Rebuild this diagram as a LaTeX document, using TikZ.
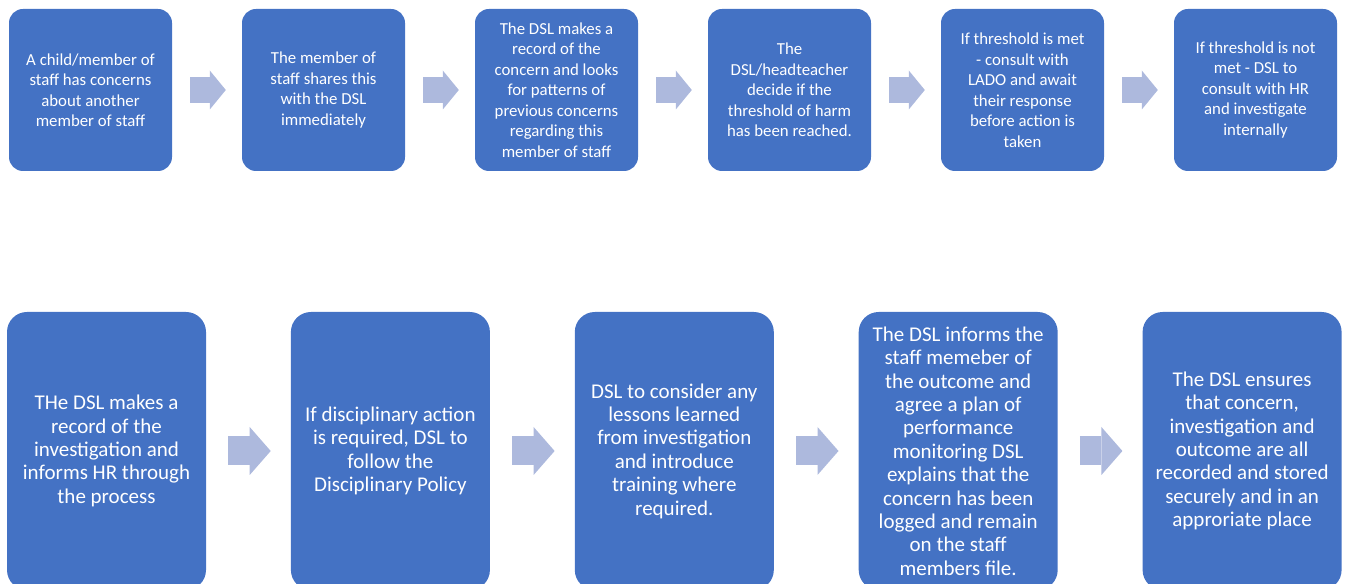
\documentclass[tikz,border=0pt]{standalone}
\usepackage{fontspec}
\setmainfont{Carlito}
\usepackage{xcolor}
\usetikzlibrary{positioning,arrows.meta}

\definecolor{boxblue}{RGB}{68,114,196}
\definecolor{arrowblue}{RGB}{173,185,221}

\tikzset{
    stepbox/.style={rectangle, fill=boxblue, text=white, align=center, inner sep=0pt},
    topbox/.style={stepbox, minimum width=163pt, minimum height=162pt, rounded corners=14pt, font=\fontsize{16.8}{20.5}\selectfont},
    lowbox/.style={stepbox, minimum width=199pt, minimum height=278pt, rounded corners=20pt, font=\fontsize{21}{23.4}\selectfont},
    toparrow/.style={draw=arrowblue, line width=26pt, shorten <=18pt, shorten >=16pt, -{Triangle[width=39pt, length=16pt, line width=0pt]}},
    lowarrow/.style={draw=arrowblue, line width=29pt, shorten <=22pt, shorten >=20pt, -{Triangle[width=48pt, length=21pt, line width=0pt]}}
}

\begin{document}
\begin{tikzpicture}[x=1pt, y=1pt]
    \useasboundingbox (0,0) rectangle (1345,584);

    % Top row
    \node[topbox] (t1) at (90.5,494) {
        A child/member of\\
        staff has concerns\\
        about another\\
        member of staff
    };

    \node[topbox, right=69.6pt of t1] (t2) {
        The member of\\
        staff shares this\\
        with the DSL\\
        immediately
    };

    \node[topbox, right=69.6pt of t2] (t3) {
        The DSL makes a\\
        record of the\\
        concern and looks\\
        for patterns of\\
        previous concerns\\
        regarding this\\
        member of staff
    };

    \node[topbox, right=69.6pt of t3] (t4) {
        The\\
        DSL/headteacher\\
        decide if the\\
        threshold of harm\\
        has been reached.
    };

    \node[topbox, right=69.6pt of t4] (t5) {
        If threshold is met\\
        - consult with\\
        LADO and await\\
        their response\\
        before action is\\
        taken
    };

    \node[topbox, right=69.6pt of t5] (t6) {
        If threshold is not\\
        met - DSL to\\
        consult with HR\\
        and investigate\\
        internally
    };

    % Bottom row
    \node[lowbox] (b1) at (106.5,133) {
        THe DSL makes a\\
        record of the\\
        investigation and\\
        informs HR through\\
        the process
    };

    \node[lowbox, right=84.5pt of b1] (b2) {
        If disciplinary action\\
        is required, DSL to\\
        follow the\\
        Disciplinary Policy
    };

    \node[lowbox, right=84.5pt of b2] (b3) {
        DSL to consider any\\
        lessons learned\\
        from investigation\\
        and introduce\\
        training where\\
        required.
    };

    \node[lowbox, right=84.5pt of b3] (b4) {
        The DSL informs the\\
        staff memeber of\\
        the outcome and\\
        agree a plan of\\
        performance\\
        monitoring DSL\\
        explains that the\\
        concern has been\\
        logged and remain\\
        on the staff\\
        members file.
    };

    \node[lowbox, right=84.5pt of b4] (b5) {
        The DSL ensures\\
        that concern,\\
        investigation and\\
        outcome are all\\
        recorded and stored\\
        securely and in an\\
        approriate place
    };

    % Arrows
    \draw[toparrow] (t1) -- (t2);
    \draw[toparrow] (t2) -- (t3);
    \draw[toparrow] (t3) -- (t4);
    \draw[toparrow] (t4) -- (t5);
    \draw[toparrow] (t5) -- (t6);
    \draw[lowarrow] (b1) -- (b2);
    \draw[lowarrow] (b2) -- (b3);
    \draw[lowarrow] (b3) -- (b4);
    \draw[lowarrow] (b4) -- (b5);
\end{tikzpicture}
\end{document}
